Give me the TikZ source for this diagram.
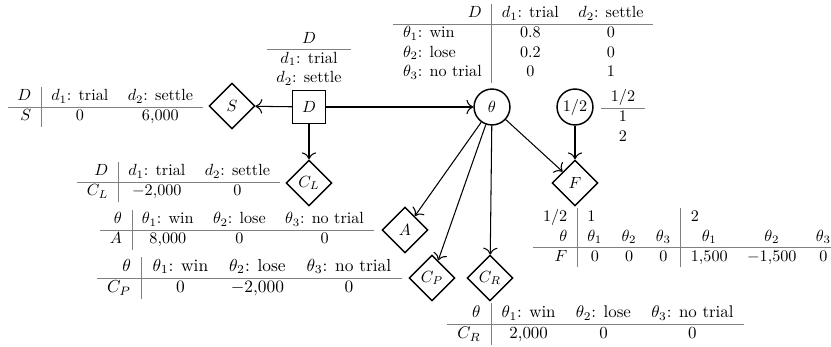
\documentclass[tikz,border=0pt]{standalone}
\usepackage{graphicx}
\usepackage{colortbl}
\usetikzlibrary{shapes.geometric,arrows.meta}
\arrayrulecolor{gray}
\begin{document}
\begin{tikzpicture}[x=0.618pt,y=-0.618pt,
  chance/.style={circle,draw,line width=0.9pt,minimum size=22.2pt,inner sep=1pt},
  decision/.style={rectangle,draw,line width=0.9pt,minimum size=20.4pt,inner sep=1pt},
  utility/.style={diamond,draw,line width=0.9pt,minimum size=28.4pt,inner sep=0pt},
  tbl/.style={inner sep=0pt},
  edge/.style={-{To[scale=1.4]},line width=0.65pt}]
\useasboundingbox (0,0) rectangle (831,347);
% nodes
\node[decision] (D) at (309,107) {$D$};
\node[utility] (S) at (232,106) {$S$};
\node[chance] (T) at (492,107) {$\theta$};
\node[chance] (H) at (575,107) {$1/2$};
\node[utility] (F) at (575,183) {$F$};
\node[utility] (CL) at (309,183) {$C_L$};
\node[utility] (A) at (405,230) {$A$};
\node[utility] (CP) at (432,278) {$C_P$};
\node[utility] (CR) at (490,278) {$C_R$};
% tables
\node[tbl,anchor=south] (tD) at (309,89) {\begin{tabular}{c}$D$\\\hline $d_1$: trial\\ $d_2$: settle\end{tabular}};
\node[tbl,anchor=north] (tH) at (623,88) {\begin{tabular}{c}$1/2$\\\hline 1\\ 2\end{tabular}};
\node[tbl,anchor=east] (tS) at (203,107) {\begin{tabular}{r|cc}$D$ & $d_1$: trial & $d_2$: settle\\\hline $S$ & 0 & 6,000\end{tabular}};
\node[tbl,anchor=east] (tCL) at (280,182) {\begin{tabular}{r|cc}$D$ & $d_1$: trial & $d_2$: settle\\\hline $C_L$ & $-2{,}000$ & 0\end{tabular}};
\node[tbl,anchor=north west] (tT) at (393,4) {\begin{tabular}{l|cc}\multicolumn{1}{r|}{$D$} & $d_1$: trial & $d_2$: settle\\\hline $\theta_1$: win & 0.8 & 0\\ $\theta_2$: lose & 0.2 & 0\\ $\theta_3$: no trial & 0 & 1\end{tabular}};
\node[tbl,anchor=east] (tA) at (374,230) {\begin{tabular}{r|ccc}$\theta$ & $\theta_1$: win & $\theta_2$: lose & $\theta_3$: no trial\\\hline $A$ & 8,000 & 0 & 0\end{tabular}};
\node[tbl,anchor=east] (tCP) at (402,278) {\scalebox{1.075}{\begin{tabular}{r|ccc}$\theta$ & $\theta_1$: win & $\theta_2$: lose & $\theta_3$: no trial\\\hline $C_P$ & 0 & $-2{,}000$ & 0\end{tabular}}};
\node[tbl,anchor=west] (tCR) at (447,324) {\scalebox{1.045}{\begin{tabular}{r|ccc}$\theta$ & $\theta_1$: win & $\theta_2$: lose & $\theta_3$: no trial\\\hline $C_R$ & 2,000 & 0 & 0\end{tabular}}};
\node[tbl,anchor=north west] (tF) at (533,208) {\begin{tabular}{r|ccc|ccc}$1/2$ & \multicolumn{3}{l|}{1} & \multicolumn{3}{l}{2}\\ $\theta$ & $\theta_1$ & $\theta_2$ & $\theta_3$ & $\theta_1$ & $\theta_2$ & $\theta_3$\\\hline $F$ & 0 & 0 & 0 & 1,500 & $-1{,}500$ & 0\end{tabular}};
% edges
\draw[edge] (D) -- (S);
\draw[edge] (D) -- (T);
\draw[edge] (D) -- (CL);
\draw[edge] (T) -- (A);
\draw[edge] (T) -- (CP);
\draw[edge] (T) -- (CR);
\draw[edge] (T) -- (F);
\draw[edge] (H) -- (F);
\end{tikzpicture}
\end{document}
